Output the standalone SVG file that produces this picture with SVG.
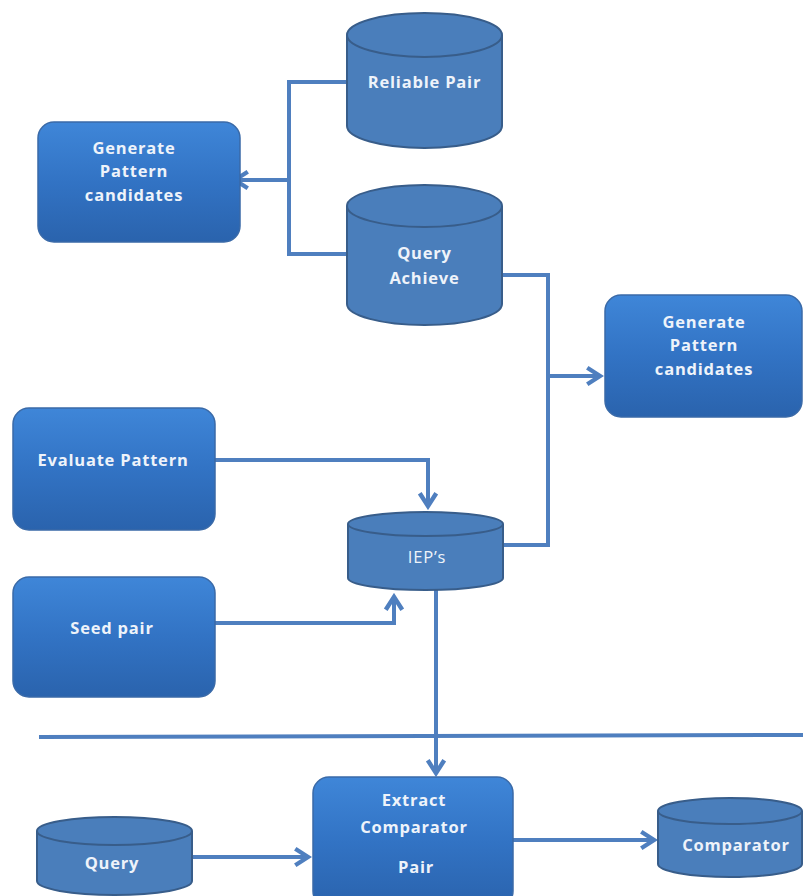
<svg xmlns="http://www.w3.org/2000/svg" width="803" height="896" viewBox="0 0 803 896">
<style>
.cyl{fill:#4a7ebb;stroke:#385d8a;stroke-width:2}
.box{fill:url(#bg);stroke:#3a6aa8;stroke-width:1.5}
.t{font-family:"Open Sans","Liberation Sans",sans-serif;font-weight:bold;font-size:16.5px;letter-spacing:0.8px;fill:#eef3fa;text-anchor:middle}
.tn{font-weight:normal}
.c{fill:none;stroke:#4f7fbf;stroke-width:4}
</style>
<defs>
<linearGradient id="bg" x1="0" y1="0" x2="0" y2="1">
<stop offset="0" stop-color="#3f86d8"/>
<stop offset="0.5" stop-color="#3273c4"/>
<stop offset="1" stop-color="#2a63ad"/>
</linearGradient>
<marker id="ar" viewBox="0 0 12 12" refX="10.5" refY="6" markerWidth="5.5" markerHeight="5.5" orient="auto" markerUnits="strokeWidth">
<path d="M3,1.5 L10,6 L3,10.5" fill="none" stroke="#4f7fbf" stroke-width="2.4" stroke-linejoin="miter"/>
</marker>
</defs>
<rect width="803" height="896" fill="#ffffff"/>

<g id="connectors">
<path class="c" d="M347,82 H289 V254 H347"/>
<path class="c" d="M289,180 H234" marker-end="url(#ar)"/>
<path class="c" d="M502,275 H548 V545 H502"/>
<path class="c" d="M548,376 H601" marker-end="url(#ar)"/>
<path class="c" d="M215,460 H428 V507" marker-end="url(#ar)"/>
<path class="c" d="M215,623 H394 V596" marker-end="url(#ar)"/>
<path class="c" d="M436,590 V774" marker-end="url(#ar)"/>
<path class="c" d="M192,857 H309" marker-end="url(#ar)"/>
<path class="c" d="M513,840 H655" marker-end="url(#ar)"/>
<path d="M39,737 L803,735" fill="none" stroke="#4f7fbf" stroke-width="4"/>
</g>

<g id="reliable-pair">
<path class="cyl" d="M347,35 V126 A77.5,22 0 0 0 502,126 V35"/>
<ellipse class="cyl" cx="424.5" cy="35" rx="77.5" ry="22"/>
<text class="t" x="424.5" y="88">Reliable Pair</text>
</g>

<g id="query-achieve">
<path class="cyl" d="M347,206 V304 A77.5,21 0 0 0 502,304 V206"/>
<ellipse class="cyl" cx="424.5" cy="206" rx="77.5" ry="21"/>
<text class="t" x="424.5" y="259">Query</text>
<text class="t" x="424.5" y="284">Achieve</text>
</g>

<g id="generate-left">
<rect class="box" x="38" y="122" width="202" height="120" rx="16"/>
<text class="t" x="134" y="154">Generate</text>
<text class="t" x="134" y="177">Pattern</text>
<text class="t" x="134" y="201">candidates</text>
</g>

<g id="generate-right">
<rect class="box" x="605" y="295" width="197" height="122" rx="16"/>
<text class="t" x="704" y="328">Generate</text>
<text class="t" x="704" y="351">Pattern</text>
<text class="t" x="704" y="375">candidates</text>
</g>

<g id="evaluate-pattern">
<rect class="box" x="13" y="408" width="202" height="122" rx="16"/>
<text class="t" x="113" y="466">Evaluate Pattern</text>
</g>

<g id="ieps">
<path class="cyl" d="M348,524 V578 A77.5,12 0 0 0 503,578 V524"/>
<ellipse class="cyl" cx="425.5" cy="524" rx="77.5" ry="12"/>
<text class="t tn" x="427" y="563">IEP’s</text>
</g>

<g id="seed-pair">
<rect class="box" x="13" y="577" width="202" height="120" rx="16"/>
<text class="t" x="112" y="634">Seed pair</text>
</g>

<g id="extract">
<rect class="box" x="313" y="777" width="200" height="130" rx="16"/>
<text class="t" x="414" y="806">Extract</text>
<text class="t" x="414" y="833">Comparator</text>
<text class="t" x="416" y="873">Pair</text>
</g>

<g id="query">
<path class="cyl" d="M37,831 V881 A77.5,14 0 0 0 192,881 V831"/>
<ellipse class="cyl" cx="114.5" cy="831" rx="77.5" ry="14"/>
<text class="t" x="112" y="869">Query</text>
</g>

<g id="comparator">
<path class="cyl" d="M658,811 V864 A72,13 0 0 0 802,864 V811"/>
<ellipse class="cyl" cx="730" cy="811" rx="72" ry="13"/>
<text class="t" x="736" y="851">Comparator</text>
</g>
</svg>
